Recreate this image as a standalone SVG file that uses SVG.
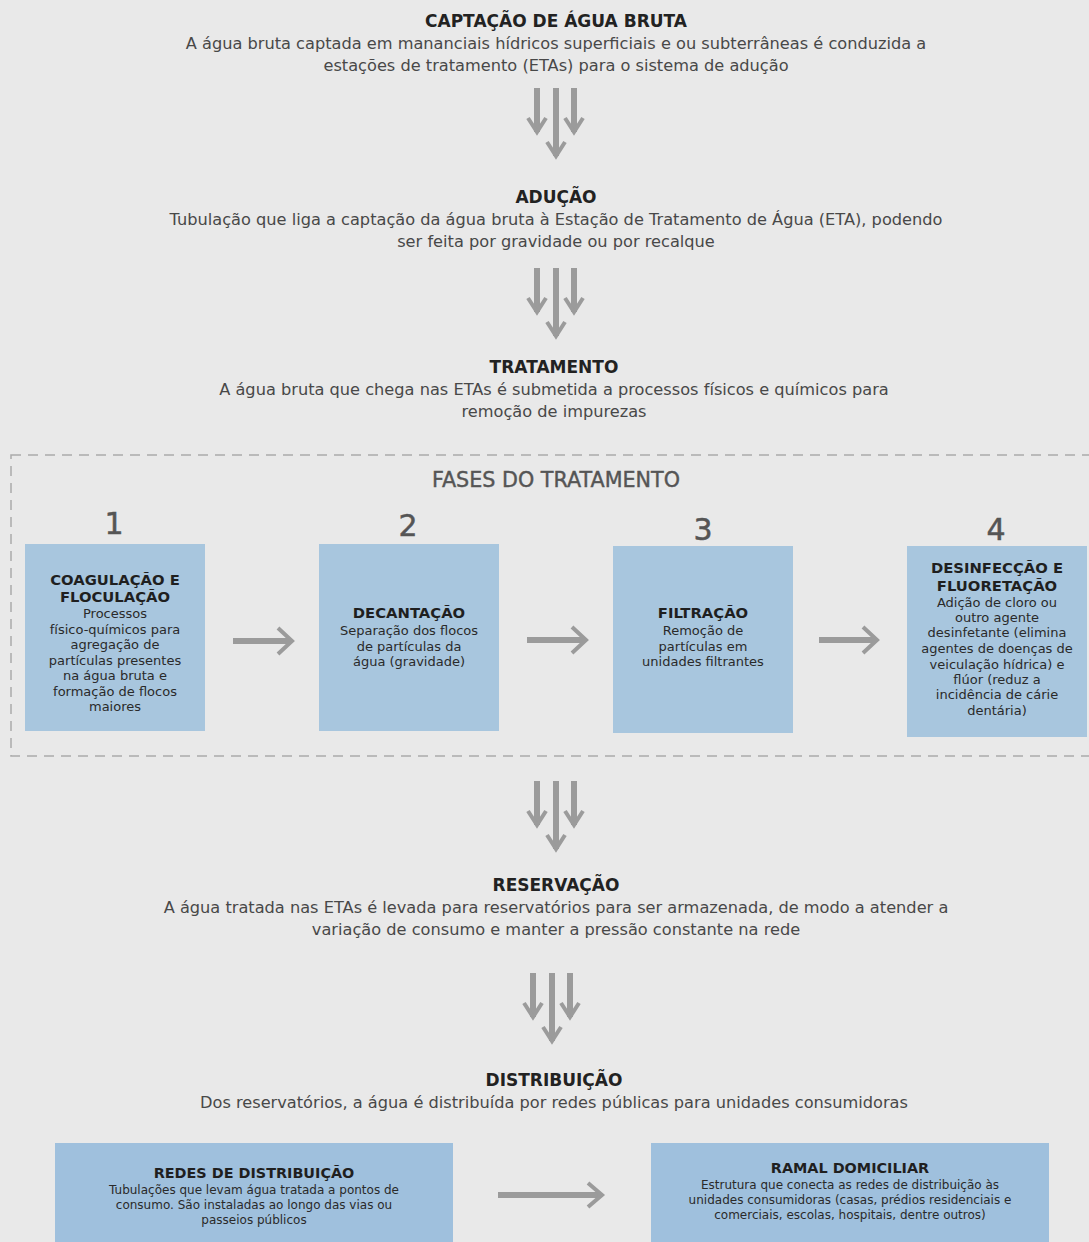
<svg xmlns="http://www.w3.org/2000/svg" xmlns:xlink="http://www.w3.org/1999/xlink" width="1089" height="1242" viewBox="0 0 1089 1242">
<style>
text{font-family:"DejaVu Sans","Open Sans",sans-serif;text-anchor:middle}
.h{font-weight:700;font-size:17px;fill:#222}
.s{font-size:16.2px;fill:#484848}
.bt{font-weight:700;font-size:14.8px;fill:#1f1f1f}
.bb{font-size:13px;fill:#2a2a2a}
.num{font-size:30px;fill:#555;stroke:#555;stroke-width:0.5}
.lt{font-weight:700;font-size:14.4px;fill:#1f1f1f}
.lb{font-size:12px;fill:#2a2a2a}
.box{fill:#a8c6de}
.box2{fill:#9fc0dd}
.shaft{stroke:#9b9b9b;stroke-width:6;fill:none}
.head{stroke:#9b9b9b;stroke-width:4;fill:none}
</style>
<defs>
<g id="tri">
<line class="shaft" x1="0" y1="0" x2="0" y2="44"/>
<polyline class="head" points="-9,30 0,44 9,30"/>
<line class="shaft" x1="19" y1="0" x2="19" y2="68"/>
<polyline class="head" points="10,54 19,68 28,54"/>
<line class="shaft" x1="37" y1="0" x2="37" y2="44"/>
<polyline class="head" points="28,30 37,44 46,30"/>
</g>
</defs>
<rect width="1089" height="1242" fill="#e9e9e9"/>

<g id="captacao">
<text class="h" x="556" y="27">CAPTAÇÃO DE ÁGUA BRUTA</text>
<text class="s" x="556" y="49">A água bruta captada em mananciais hídricos superficiais e ou subterrâneas é conduzida a</text>
<text class="s" x="556" y="71">estações de tratamento (ETAs) para o sistema de adução</text>
</g>
<g id="aducao">
<text class="h" x="556" y="203">ADUÇÃO</text>
<text class="s" x="556" y="225">Tubulação que liga a captação da água bruta à Estação de Tratamento de Água (ETA), podendo</text>
<text class="s" x="556" y="247">ser feita por gravidade ou por recalque</text>
</g>
<g id="tratamento">
<text class="h" x="554" y="373">TRATAMENTO</text>
<text class="s" x="554" y="395">A água bruta que chega nas ETAs é submetida a processos físicos e químicos para</text>
<text class="s" x="554" y="417">remoção de impurezas</text>
</g>
<g id="fases">
<rect x="11" y="455" width="1095" height="301" fill="none" stroke="#ababab" stroke-width="1.5" stroke-dasharray="10 7"/>
<text x="556" y="487" style="font-size:20.7px;fill:#555;stroke:#555;stroke-width:0.4">FASES DO TRATAMENTO</text>
</g>
<g id="fase1">
<text class="num" x="114" y="534">1</text>
<rect class="box" x="25" y="544" width="180" height="187"/>
<text class="bt" x="115" y="585">COAGULAÇÃO E</text>
<text class="bt" x="115" y="602">FLOCULAÇÃO</text>
<text class="bb" x="115" y="618">Processos</text>
<text class="bb" x="115" y="634">físico-químicos para</text>
<text class="bb" x="115" y="649">agregação de</text>
<text class="bb" x="115" y="665">partículas presentes</text>
<text class="bb" x="115" y="680">na água bruta e</text>
<text class="bb" x="115" y="696">formação de flocos</text>
<text class="bb" x="115" y="711">maiores</text>
</g>
<g id="fase2">
<text class="num" x="408" y="536">2</text>
<rect class="box" x="319" y="544" width="180" height="187"/>
<text class="bt" x="409" y="618">DECANTAÇÃO</text>
<text class="bb" x="409" y="635">Separação dos flocos</text>
<text class="bb" x="409" y="651">de partículas da</text>
<text class="bb" x="409" y="666">água (gravidade)</text>
</g>
<g id="fase3">
<text class="num" x="703" y="540">3</text>
<rect class="box" x="613" y="546" width="180" height="187"/>
<text class="bt" x="703" y="618">FILTRAÇÃO</text>
<text class="bb" x="703" y="635">Remoção de</text>
<text class="bb" x="703" y="651">partículas em</text>
<text class="bb" x="703" y="666">unidades filtrantes</text>
</g>
<g id="fase4">
<text class="num" x="996" y="540">4</text>
<rect class="box" x="907" y="546" width="180" height="191"/>
<text class="bt" x="997" y="573">DESINFECÇÃO E</text>
<text class="bt" x="997" y="591">FLUORETAÇÃO</text>
<text class="bb" x="997" y="607">Adição de cloro ou</text>
<text class="bb" x="997" y="622">outro agente</text>
<text class="bb" x="997" y="637">desinfetante (elimina</text>
<text class="bb" x="997" y="653">agentes de doenças de</text>
<text class="bb" x="997" y="669">veiculação hídrica) e</text>
<text class="bb" x="997" y="684">flúor (reduz a</text>
<text class="bb" x="997" y="699">incidência de cárie</text>
<text class="bb" x="997" y="715">dentária)</text>
</g>
<g id="reservacao">
<text class="h" x="556" y="891">RESERVAÇÃO</text>
<text class="s" x="556" y="913">A água tratada nas ETAs é levada para reservatórios para ser armazenada, de modo a atender a</text>
<text class="s" x="556" y="935">variação de consumo e manter a pressão constante na rede</text>
</g>
<g id="distribuicao">
<text class="h" x="554" y="1086">DISTRIBUIÇÃO</text>
<text class="s" x="554" y="1108">Dos reservatórios, a água é distribuída por redes públicas para unidades consumidoras</text>
</g>
<g id="redes">
<rect class="box2" x="55" y="1143" width="398" height="110"/>
<text class="lt" x="254" y="1178">REDES DE DISTRIBUIÇÃO</text>
<text class="lb" x="254" y="1194">Tubulações que levam água tratada a pontos de</text>
<text class="lb" x="254" y="1209">consumo. São instaladas ao longo das vias ou</text>
<text class="lb" x="254" y="1224">passeios públicos</text>
</g>
<g id="ramal">
<rect class="box2" x="651" y="1143" width="398" height="110"/>
<text class="lt" x="850" y="1173">RAMAL DOMICILIAR</text>
<text class="lb" x="850" y="1189">Estrutura que conecta as redes de distribuição às</text>
<text class="lb" x="850" y="1204">unidades consumidoras (casas, prédios residenciais e</text>
<text class="lb" x="850" y="1219">comerciais, escolas, hospitais, dentre outros)</text>
</g>
<g id="connectors">
<use xlink:href="#tri" x="537" y="88"/>
<use xlink:href="#tri" x="537" y="268"/>
<use xlink:href="#tri" x="537" y="781"/>
<use xlink:href="#tri" x="533" y="973"/>
<line class="shaft" x1="233" y1="641" x2="291" y2="641"/>
<polyline class="head" points="278,628 292,641 278,654"/>
<line class="shaft" x1="527" y1="640" x2="585" y2="640"/>
<polyline class="head" points="572,627 586,640 572,653"/>
<line class="shaft" x1="819" y1="640" x2="876" y2="640"/>
<polyline class="head" points="863,627 877,640 863,653"/>
<line class="shaft" x1="498" y1="1195" x2="601" y2="1195"/>
<polyline class="head" points="588,1183 602,1195 588,1207"/>
</g>
</svg>
